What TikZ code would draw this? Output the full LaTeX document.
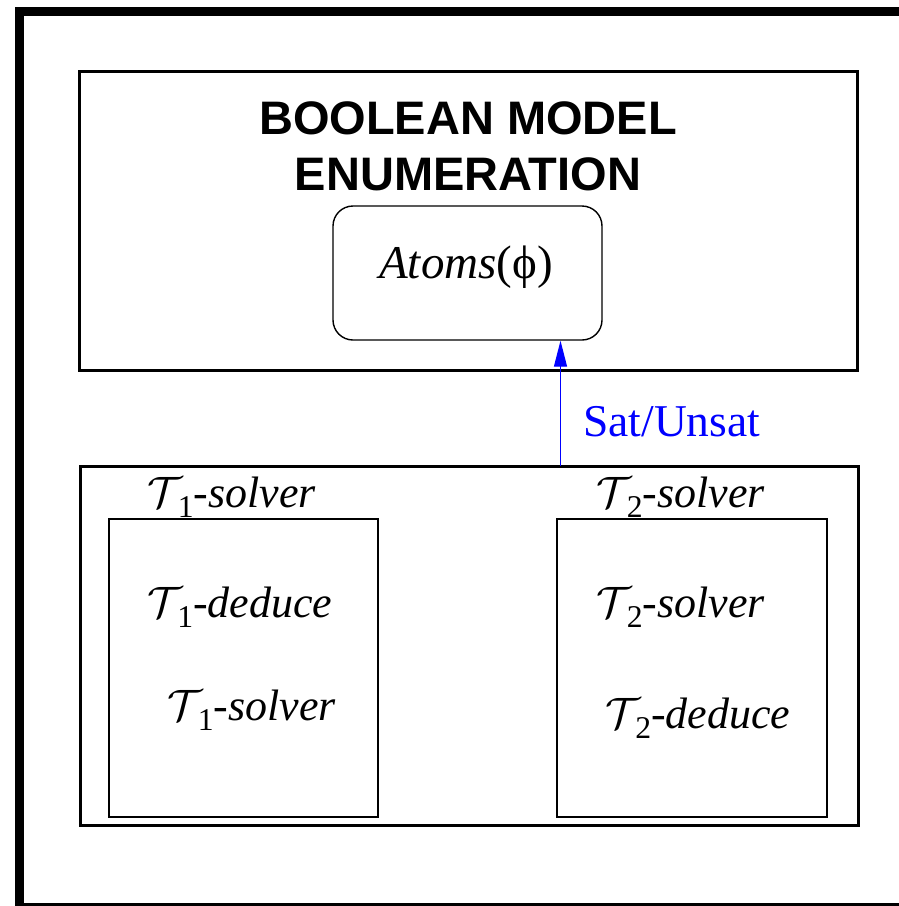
\RequirePackage{fix-cm}
\documentclass[tikz,border=0pt]{standalone}
\usepackage{fontspec}
\setmainfont{Liberation Serif}
\newfontfamily\headfont{Liberation Sans}
\usetikzlibrary{arrows.meta}
\newcommand{\Th}[1]{$\mathcal{T}$\kern-0.12em\raisebox{-0.24em}{\scalebox{0.72}{#1}}}
\begin{document}
\begin{tikzpicture}[x=1pt,y=-1pt,
  outer/.style={draw=black,line width=3pt},
  inner/.style={draw=black,line width=1.4pt},
  lbl/.style={anchor=base,inner sep=0pt,font=\fontsize{44}{50}\selectfont},
  head/.style={anchor=base,inner sep=0pt,font=\headfont\bfseries\fontsize{47}{56}\selectfont},
  ]
\useasboundingbox (0,0) rectangle (898,906);
\fill[white] (-10,-10) rectangle (920,920);
% page frame: top, left and bottom edges
\fill[black] (15,7) rectangle (910,15.5);
\fill[black] (15,7) rectangle (24,910);
\fill[black] (15,902.5) rectangle (910,910);

% Boolean enumerator
\draw[outer] (79,71) rectangle (857,370);
\node[head] (title1) at (468,134) {BOOLEAN MODEL};
\node[head] (title2) at (468,190) {ENUMERATION};
\draw[line width=1.4pt,rounded corners=20pt] (333,206) rectangle (602,340);
\coordinate (atomsbot) at (560.5,340.7);
\node[lbl,font=\fontsize{47}{50}\selectfont] (atoms) at (466,278) {\textit{Atoms}(ϕ)};

% theory solvers
\draw[outer] (80,466) rectangle (858,825);
\coordinate (solvtop) at (560.5,466);
\draw[inner] (109,519) rectangle (378,817);
\draw[inner] (557,519) rectangle (827,817);

\node[lbl] (h1) at (232,507) {\Th{1}-\textit{solver}};
\node[lbl] (h2) at (681,507) {\Th{2}-\textit{solver}};
\node[lbl] (d1) at (240,617) {\Th{1}-\textit{deduce}};
\node[lbl] (s1) at (252,720) {\Th{1}-\textit{solver}};
\node[lbl] (s2) at (681,617) {\Th{2}-\textit{solver}};
\node[lbl] (d2) at (698,728) {\Th{2}-\textit{deduce}};

% result passed back to the enumerator
\draw[blue,line width=1.3pt,-{Triangle[length=26pt,width=13pt]}] (solvtop) -- (atomsbot);
\node[lbl,text=blue,anchor=base west,font=\fontsize{45.5}{50}\selectfont] (res) at (583,436) {Sat/Unsat};
\end{tikzpicture}
\end{document}
